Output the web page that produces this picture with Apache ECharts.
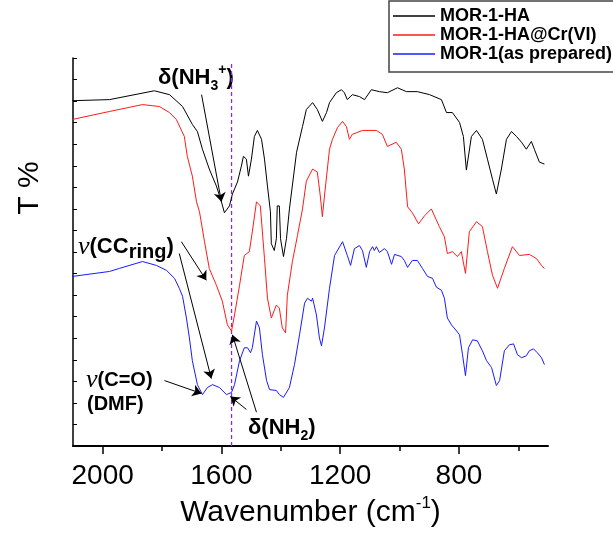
<!DOCTYPE html>
<html>
<head>
<meta charset="utf-8">
<script src="https://cdn.jsdelivr.net/npm/echarts@6/dist/echarts.min.js"></script>
<style>
  html, body { margin: 0; padding: 0; background: #fff; }
  #chart { width: 613px; height: 533px; }
</style>
</head>
<body>
<div id="chart"></div>
<script>
// spectra: [wavenumber, T (arbitrary offset units)]
const seriesNames = ['MOR-1-HA', 'MOR-1-HA@Cr(VI)', 'MOR-1(as prepared)'];

const haSpectrum = [
  [2102,16.02],[1977,16.07],[1826,16.48],[1775,16.30],[1731,15.75],[1698,14.92],[1681,14.59],[1664,13.77],
  [1641,12.85],[1617,12.06],[1600,11.33],[1590,10.82],[1573,11.14],[1563,11.69],[1546,12.25],[1533,12.98],
  [1526,13.44],[1516,13.31],[1509,12.52],[1499,13.31],[1489,14.36],[1479,14.64],[1465,14.23],[1455,13.31],
  [1445,12.06],[1435,10.87],[1432,9.39],[1422,9.07],[1415,9.62],[1412,11.14],[1405,11.14],[1401,9.62],
  [1391,8.79],[1381,9.62],[1371,11.00],[1347,13.63],[1327,14.82],[1314,15.61],[1293,15.93],[1277,15.61],
  [1260,15.06],[1246,15.47],[1236,15.93],[1213,16.39],[1196,16.53],[1186,16.39],[1176,16.07],[1159,16.30],
  [1135,16.21],[1118,16.07],[1095,16.53],[1068,16.44],[1041,16.39],[1007,16.62],[977,16.44],[940,16.44],
  [899,16.30],[859,16.07],[842,15.47],[822,15.47],[798,15.01],[785,14.36],[775,12.80],[758,14.36],
  [741,14.64],[721,14.23],[704,13.31],[687,12.38],[674,11.69],[657,12.85],[640,14.23],[623,14.59],
  [606,14.36],[589,14.09],[573,13.77],[556,14.13],[546,13.77],[529,13.17],[512,13.08]
];

const crSpectrum = [
  [2102,15.15],[1977,15.52],[1866,15.84],[1809,15.75],[1775,15.47],[1752,15.15],[1725,14.36],[1715,13.44],
  [1698,12.52],[1684,11.33],[1674,10.87],[1657,9.48],[1641,8.24],[1617,7.46],[1597,6.72],[1580,5.62],
  [1566,5.34],[1556,6.08],[1539,7.46],[1523,8.84],[1506,9.02],[1496,9.94],[1482,11.33],[1469,11.14],
  [1455,8.70],[1445,6.86],[1432,5.94],[1415,6.54],[1405,6.40],[1395,5.48],[1384,5.25],[1378,7.00],
  [1361,8.56],[1344,9.76],[1327,11.00],[1314,12.29],[1293,12.85],[1277,12.71],[1267,11.60],[1260,10.64],
  [1253,11.60],[1236,13.77],[1226,14.23],[1209,14.78],[1192,15.06],[1179,14.82],[1169,14.23],[1159,14.46],
  [1125,14.64],[1078,14.64],[1058,14.46],[1041,13.90],[1011,14.09],[994,13.77],[984,12.85],[973,11.10],
  [957,10.82],[936,10.31],[916,10.68],[893,11.00],[866,10.18],[849,9.71],[839,8.93],[822,9.02],
  [805,8.79],[792,9.02],[778,8.01],[765,9.94],[741,10.41],[721,10.18],[704,9.02],[687,7.92],
  [670,7.32],[647,8.24],[620,9.25],[596,8.84],[563,8.89],[539,8.70],[522,8.38],[512,8.24]
];

const morSpectrum = [
  [2102,7.87],[1977,8.10],[1944,8.24],[1866,8.56],[1819,8.38],[1785,8.15],[1758,7.78],[1742,7.32],
  [1731,6.95],[1718,5.94],[1708,5.02],[1698,3.96],[1681,2.85],[1664,2.39],[1647,2.72],[1630,2.85],
  [1607,2.72],[1583,2.39],[1566,2.49],[1556,2.85],[1539,3.96],[1523,4.56],[1512,4.56],[1502,4.33],
  [1496,4.56],[1482,5.80],[1472,5.48],[1462,4.24],[1448,3.04],[1438,2.62],[1415,2.58],[1405,2.39],
  [1391,2.26],[1371,2.72],[1354,3.78],[1337,5.16],[1320,6.63],[1310,6.86],[1297,6.72],[1293,6.86],
  [1280,6.08],[1270,5.02],[1263,4.65],[1253,5.48],[1236,7.32],[1219,8.84],[1192,9.48],[1176,8.84],
  [1165,8.38],[1152,9.16],[1135,9.30],[1125,9.07],[1112,8.29],[1101,9.02],[1091,9.25],[1085,9.07],
  [1078,9.25],[1068,8.98],[1051,9.16],[1041,9.02],[1027,8.43],[1017,8.89],[994,8.79],[984,8.61],
  [973,8.29],[957,8.61],[940,8.61],[923,8.24],[906,7.87],[889,7.78],[876,7.37],[859,7.23],
  [849,6.86],[839,5.94],[825,5.62],[808,5.34],[798,5.16],[788,4.24],[778,3.27],[768,4.56],
  [754,4.93],[738,4.88],[721,4.42],[707,3.96],[690,3.64],[674,2.81],[663,3.04],[647,4.42],
  [630,4.70],[616,4.74],[603,4.24],[589,4.10],[573,4.19],[563,4.42],[549,4.51],[536,4.33],
  [522,4.10],[512,3.78]
];

const xMajorTicks = [2000, 1600, 1200, 800];
const xMinorTicks = [1800, 1400, 1000, 600];
// dashed guide at ~1566 cm-1
const markerLine = [[1566, 0], [1566, 17.8]];

// annotation arrows [from, to] in data units
const arrows = [
  [[1667, 16.30], [1600, 11.33]],   // δ(NH3+)
  [[1735, 9.48], [1651, 7.69]],     // ν(CCring) -> red
  [[1742, 8.93], [1634, 3.13]],     // ν(CCring) -> blue
  [[1792, 3.04], [1667, 2.44]],     // ν(C=O)
  [[1482, 1.57], [1563, 5.16]],     // δ(NH2) -> red
  [[1516, 1.70], [1570, 2.30]]      // δ(NH2) -> blue
];

const FONT = 'Liberation Sans, Arial, sans-serif';
const chart = echarts.init(document.getElementById('chart'));

const bold = (size) => ({ fontFamily: FONT, fontWeight: 'bold', fontSize: size, lineHeight: 30, verticalAlign: 'middle', fill: '#000' });
const small = (size, va) => ({ fontFamily: FONT, fontWeight: 'bold', fontSize: size, lineHeight: size, verticalAlign: va, fill: '#000' });
const nu = { fontFamily: 'Liberation Serif, Times New Roman, serif', fontStyle: 'italic', fontSize: 26, lineHeight: 30, verticalAlign: 'middle', fill: '#000' };

const arrowStyle = { color: '#000', width: 1, type: 'solid' };

const option = {
  animation: false,
  backgroundColor: '#fff',
  grid: { left: 73, right: 65, top: 58, bottom: 84 },
  legend: {
    orient: 'vertical',
    left: 389,
    top: 1,
    padding: [6, 8, 9, 4],
    icon: 'rect',
    itemWidth: 42,
    itemHeight: 1.5,
    itemGap: 1,
    borderColor: '#444',
    borderWidth: 1.5,
    textStyle: { fontFamily: FONT, fontWeight: 'bold', fontSize: 18, color: '#000', lineHeight: 18 },
    data: seriesNames
  },
  xAxis: [{
    type: 'value',
    inverse: true,
    min: 500,
    max: 2100,
    name: '{a|Wavenumber (cm}{s|-1}{a|)}',
    nameLocation: 'middle',
    nameGap: 47,
    nameTextStyle: {
      rich: {
        a: { fontFamily: FONT, fontSize: 30, color: '#000', lineHeight: 36, verticalAlign: 'middle' },
        s: { fontFamily: FONT, fontSize: 17, color: '#000', lineHeight: 17, verticalAlign: 'top' }
      }
    },
    splitLine: { show: false },
    axisLine: { lineStyle: { color: '#000', width: 2 } },
    axisTick: { customValues: xMajorTicks, length: 8, lineStyle: { color: '#000', width: 1.5 } },
    axisLabel: {
      customValues: xMajorTicks, formatter: v => String(v),
      fontFamily: FONT, fontSize: 28, color: '#000', margin: 16
    }
  }, {
    type: 'value',
    inverse: true,
    min: 500,
    max: 2100,
    position: 'bottom',
    splitLine: { show: false },
    axisLine: { show: false },
    axisTick: { customValues: xMinorTicks, length: 5, lineStyle: { color: '#000', width: 1.5 } },
    axisLabel: { show: false }
  }],
  yAxis: {
    type: 'value',
    min: 0,
    max: 18,
    interval: 1,
    splitLine: { show: false },
    axisLine: { lineStyle: { color: '#000', width: 1.5 } },
    axisTick: { inside: true, length: 4, lineStyle: { color: '#000' } },
    axisLabel: { show: false }
  },
  series: [{
    name: 'guide',
    type: 'line',
    data: markerLine,
    symbol: 'none',
    silent: true,
    z: 1,
    lineStyle: { color: '#8a2be2', width: 1.3, type: [4, 3] }
  }, {
    name: seriesNames[0],
    type: 'line',
    data: haSpectrum,
    symbol: 'none',
    lineStyle: { color: '#000', width: 1 },
    itemStyle: { color: '#000' },
    markLine: {
      silent: true,
      symbol: ['none', 'arrow'],
      symbolSize: 9,
      label: { show: false },
      lineStyle: arrowStyle,
      itemStyle: { color: '#000' },
      data: arrows.map(a => [
        { coord: a[0], symbol: 'none', lineStyle: arrowStyle },
        { coord: a[1], symbol: 'arrow', symbolSize: 9 }
      ])
    }
  }, {
    name: seriesNames[1],
    type: 'line',
    data: crSpectrum,
    symbol: 'none',
    lineStyle: { color: '#ff1a1a', width: 1 },
    itemStyle: { color: '#ff1a1a' }
  }, {
    name: seriesNames[2],
    type: 'line',
    data: morSpectrum,
    symbol: 'none',
    lineStyle: { color: '#1a1aff', width: 1 },
    itemStyle: { color: '#1a1aff' }
  }],
  graphic: [{
    type: 'text', x: 30, y: 188, rotation: Math.PI / 2,
    style: { text: 'T %', fontFamily: FONT, fontSize: 30, fill: '#000', align: 'center', verticalAlign: 'middle' }
  }, {
    type: 'text', x: 158, y: 78,
    style: {
      text: '{a|δ(NH}{b|3}{c|+}{a|)}', verticalAlign: 'middle',
      rich: { a: bold(22), b: small(14, 'bottom'), c: small(14, 'top') }
    }
  }, {
    type: 'text', x: 78, y: 247,
    style: {
      text: '{n|ν}{a|(CC}{b|ring}{a|)}', verticalAlign: 'middle',
      rich: { n: nu, a: bold(22), b: small(20, 'bottom') }
    }
  }, {
    type: 'text', x: 86, y: 380,
    style: {
      text: '{n|ν}{a|(C=O)}', verticalAlign: 'middle',
      rich: { n: nu, a: bold(20) }
    }
  }, {
    type: 'text', x: 87, y: 404,
    style: { text: '(DMF)', fontFamily: FONT, fontWeight: 'bold', fontSize: 20, fill: '#000', verticalAlign: 'middle' }
  }, {
    type: 'text', x: 248, y: 428,
    style: {
      text: '{a|δ(NH}{b|2}{a|)}', verticalAlign: 'middle',
      rich: { a: bold(22), b: small(14, 'bottom') }
    }
  }]
};

chart.setOption(option);
</script>
</body>
</html>
